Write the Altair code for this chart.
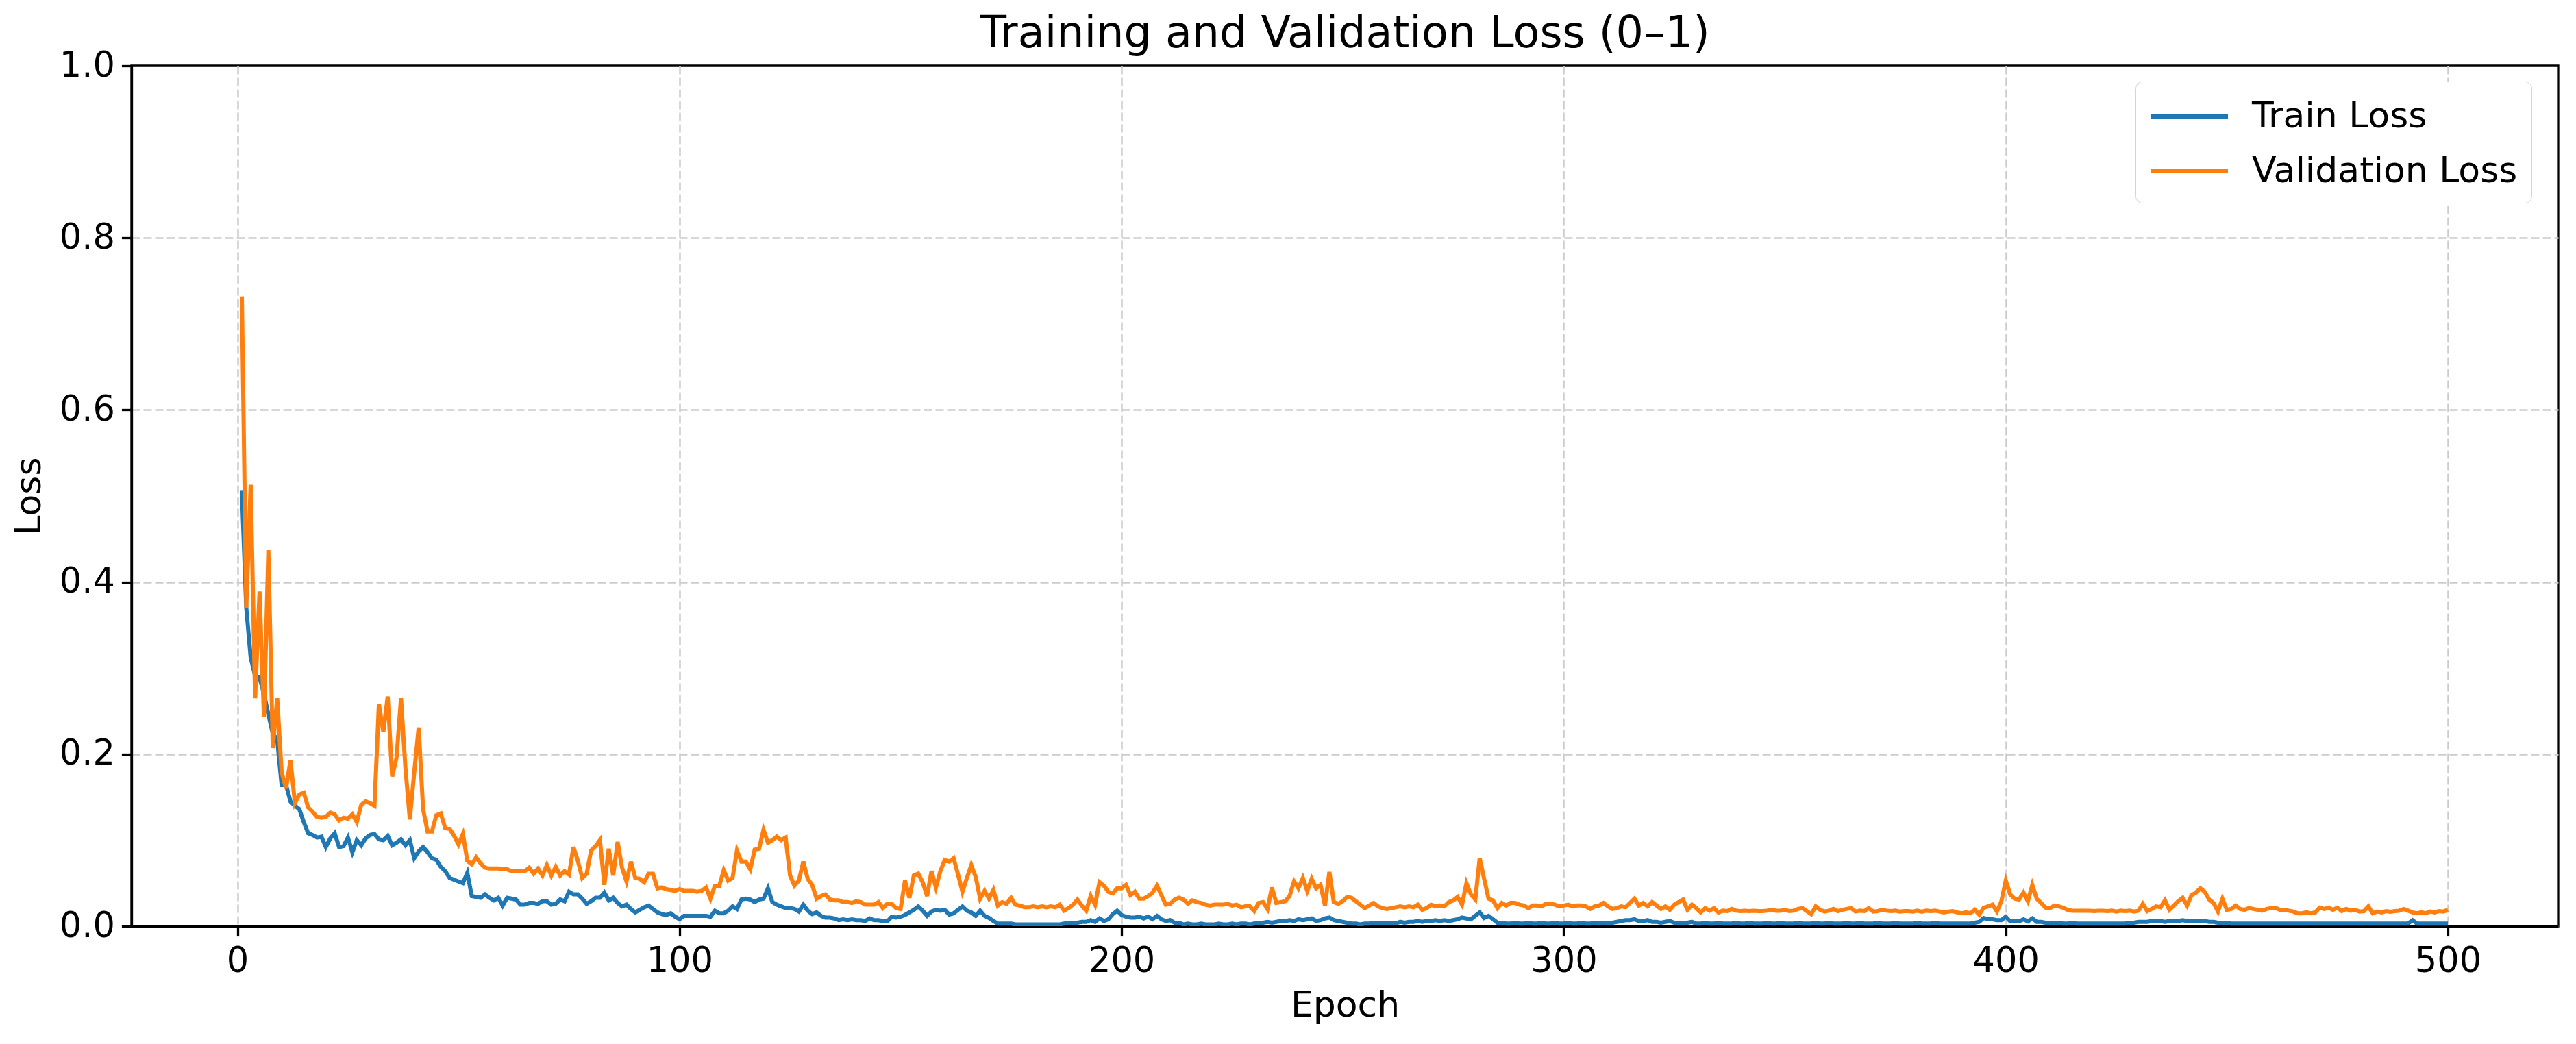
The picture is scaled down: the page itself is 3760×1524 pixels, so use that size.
import altair as alt
import pandas as pd

# ---- data ----
train_loss = [
    0.506, 0.370, 0.312, 0.291, 0.289, 0.270, 0.246, 0.224, 0.217, 0.164,
    0.164, 0.145, 0.140, 0.136, 0.121, 0.108, 0.106, 0.103, 0.104, 0.092,
    0.102, 0.108, 0.092, 0.093, 0.103, 0.086, 0.100, 0.094, 0.102, 0.106,
    0.107, 0.101, 0.100, 0.105, 0.094, 0.097, 0.101, 0.094, 0.100, 0.079,
    0.087, 0.092, 0.086, 0.079, 0.077, 0.069, 0.064, 0.056, 0.054, 0.052,
    0.050, 0.062, 0.035, 0.034, 0.033, 0.037, 0.033, 0.030, 0.033, 0.024,
    0.033, 0.032, 0.031, 0.025, 0.025, 0.027, 0.027, 0.026, 0.029, 0.029,
    0.025, 0.026, 0.031, 0.029, 0.040, 0.037, 0.037, 0.032, 0.026, 0.029,
    0.033, 0.033, 0.039, 0.030, 0.033, 0.027, 0.023, 0.025, 0.020, 0.016,
    0.019, 0.022, 0.024, 0.020, 0.016, 0.014, 0.013, 0.015, 0.011, 0.008,
    0.012, 0.012, 0.012, 0.012, 0.012, 0.012, 0.011, 0.018, 0.015, 0.015,
    0.018, 0.023, 0.020, 0.031, 0.032, 0.031, 0.028, 0.031, 0.032, 0.044,
    0.028, 0.025, 0.023, 0.021, 0.021, 0.020, 0.017, 0.025, 0.018, 0.014,
    0.016, 0.012, 0.010, 0.010, 0.009, 0.007, 0.008, 0.007, 0.008, 0.007,
    0.007, 0.006, 0.009, 0.007, 0.007, 0.006, 0.0056, 0.011, 0.010, 0.011,
    0.013, 0.016, 0.019, 0.023, 0.018, 0.012, 0.017, 0.019, 0.018, 0.019,
    0.0135, 0.015, 0.019, 0.023, 0.018, 0.016, 0.012, 0.018, 0.012, 0.0096,
    0.006, 0.003, 0.003, 0.003, 0.003, 0.002, 0.002, 0.002, 0.002, 0.002,
    0.002, 0.002, 0.002, 0.002, 0.002, 0.002, 0.003, 0.004, 0.004, 0.004,
    0.005, 0.005, 0.007, 0.005, 0.009, 0.006, 0.008, 0.014, 0.018, 0.013,
    0.011, 0.010, 0.010, 0.011, 0.009, 0.011, 0.008, 0.012, 0.008, 0.006,
    0.007, 0.004, 0.004, 0.002, 0.003, 0.002, 0.002, 0.003, 0.002, 0.002,
    0.002, 0.003, 0.002, 0.002, 0.003, 0.002, 0.003, 0.003, 0.002, 0.003,
    0.004, 0.004, 0.005, 0.004, 0.005, 0.006, 0.006, 0.007, 0.006, 0.008,
    0.007, 0.008, 0.009, 0.006, 0.007, 0.009, 0.010, 0.007, 0.006, 0.005,
    0.004, 0.003, 0.003, 0.002, 0.003, 0.003, 0.004, 0.003, 0.004, 0.003,
    0.004, 0.003, 0.005, 0.004, 0.005, 0.005, 0.006, 0.005, 0.006, 0.006,
    0.007, 0.006, 0.007, 0.006, 0.007, 0.008, 0.010, 0.009, 0.008, 0.012,
    0.016, 0.0095, 0.012, 0.008, 0.004, 0.004, 0.003, 0.003, 0.004, 0.003,
    0.003, 0.004, 0.003, 0.003, 0.004, 0.003, 0.003, 0.004, 0.003, 0.003,
    0.004, 0.003, 0.003, 0.004, 0.003, 0.003, 0.004, 0.003, 0.004, 0.003,
    0.004, 0.005, 0.006, 0.007, 0.007, 0.008, 0.006, 0.006, 0.007, 0.005,
    0.005, 0.004, 0.005, 0.006, 0.004, 0.004, 0.003, 0.004, 0.005, 0.003,
    0.003, 0.004, 0.003, 0.003, 0.004, 0.003, 0.003, 0.003, 0.004, 0.003,
    0.003, 0.004, 0.003, 0.003, 0.003, 0.004, 0.003, 0.003, 0.004, 0.003,
    0.003, 0.003, 0.004, 0.003, 0.003, 0.003, 0.004, 0.003, 0.003, 0.004,
    0.003, 0.003, 0.003, 0.004, 0.003, 0.003, 0.004, 0.003, 0.003, 0.003,
    0.004, 0.003, 0.003, 0.003, 0.004, 0.003, 0.003, 0.003, 0.003, 0.004,
    0.003, 0.003, 0.003, 0.004, 0.003, 0.003, 0.003, 0.003, 0.003, 0.003,
    0.003, 0.003, 0.004, 0.005, 0.0095, 0.008, 0.008, 0.007, 0.007, 0.011,
    0.0056, 0.006, 0.0056, 0.008, 0.0056, 0.009, 0.005, 0.005, 0.004, 0.004,
    0.003, 0.004, 0.003, 0.003, 0.004, 0.003, 0.003, 0.003, 0.003, 0.003,
    0.003, 0.003, 0.003, 0.003, 0.003, 0.003, 0.003, 0.004, 0.004, 0.005,
    0.005, 0.005, 0.006, 0.006, 0.006, 0.005, 0.006, 0.006, 0.006, 0.007,
    0.006, 0.006, 0.0056, 0.006, 0.006, 0.005, 0.005, 0.004, 0.004, 0.004,
    0.003, 0.003, 0.003, 0.003, 0.003, 0.003, 0.003, 0.003, 0.003, 0.003,
    0.003, 0.003, 0.003, 0.003, 0.003, 0.003, 0.003, 0.003, 0.003, 0.003,
    0.003, 0.003, 0.003, 0.003, 0.003, 0.003, 0.003, 0.003, 0.003, 0.003,
    0.003, 0.003, 0.003, 0.003, 0.003, 0.003, 0.003, 0.003, 0.003, 0.003,
    0.003, 0.007, 0.003, 0.003, 0.003, 0.003, 0.003, 0.003, 0.003, 0.003,
]

val_loss = [
    0.732, 0.370, 0.513, 0.265, 0.389, 0.243, 0.437, 0.207, 0.265, 0.179,
    0.160, 0.193, 0.143, 0.153, 0.155, 0.138, 0.133, 0.127, 0.126, 0.127,
    0.132, 0.130, 0.123, 0.126, 0.125, 0.130, 0.121, 0.141, 0.145, 0.143,
    0.140, 0.258, 0.226, 0.267, 0.174, 0.196, 0.265, 0.184, 0.124, 0.179,
    0.231, 0.136, 0.110, 0.110, 0.129, 0.131, 0.114, 0.113, 0.105, 0.095,
    0.107, 0.076, 0.072, 0.080, 0.073, 0.068, 0.067, 0.067, 0.067, 0.066,
    0.066, 0.064, 0.064, 0.064, 0.064, 0.068, 0.061, 0.067, 0.059, 0.071,
    0.059, 0.069, 0.059, 0.064, 0.060, 0.092, 0.076, 0.056, 0.061, 0.088,
    0.093, 0.100, 0.048, 0.090, 0.059, 0.098, 0.068, 0.052, 0.075, 0.056,
    0.055, 0.051, 0.061, 0.061, 0.044, 0.045, 0.043, 0.042, 0.041, 0.043,
    0.041, 0.041, 0.041, 0.040, 0.041, 0.045, 0.032, 0.047, 0.047, 0.065,
    0.053, 0.056, 0.088, 0.075, 0.075, 0.066, 0.089, 0.090, 0.112, 0.097,
    0.100, 0.104, 0.100, 0.103, 0.059, 0.047, 0.053, 0.075, 0.055, 0.048,
    0.032, 0.035, 0.037, 0.031, 0.030, 0.030, 0.028, 0.028, 0.027, 0.029,
    0.028, 0.025, 0.025, 0.025, 0.028, 0.021, 0.026, 0.026, 0.021, 0.020,
    0.053, 0.033, 0.059, 0.061, 0.051, 0.035, 0.064, 0.045, 0.064, 0.077,
    0.075, 0.079, 0.060, 0.040, 0.056, 0.071, 0.057, 0.032, 0.041, 0.032,
    0.042, 0.024, 0.028, 0.026, 0.033, 0.025, 0.024, 0.022, 0.022, 0.023,
    0.022, 0.023, 0.022, 0.023, 0.022, 0.025, 0.018, 0.021, 0.025, 0.031,
    0.024, 0.018, 0.035, 0.025, 0.051, 0.047, 0.040, 0.038, 0.044, 0.044,
    0.048, 0.036, 0.040, 0.032, 0.032, 0.035, 0.039, 0.047, 0.036, 0.025,
    0.026, 0.031, 0.033, 0.031, 0.026, 0.030, 0.028, 0.027, 0.025, 0.024,
    0.025, 0.025, 0.025, 0.026, 0.024, 0.025, 0.022, 0.023, 0.023, 0.0175,
    0.027, 0.028, 0.020, 0.045, 0.027, 0.028, 0.029, 0.035, 0.052, 0.044,
    0.056, 0.041, 0.055, 0.044, 0.048, 0.024, 0.063, 0.028, 0.026, 0.029,
    0.034, 0.033, 0.029, 0.025, 0.021, 0.024, 0.027, 0.023, 0.021, 0.020,
    0.021, 0.022, 0.023, 0.022, 0.023, 0.022, 0.025, 0.019, 0.021, 0.025,
    0.023, 0.024, 0.023, 0.028, 0.030, 0.034, 0.025, 0.050, 0.037, 0.031,
    0.079, 0.055, 0.032, 0.030, 0.021, 0.027, 0.024, 0.027, 0.027, 0.025,
    0.024, 0.021, 0.024, 0.024, 0.023, 0.026, 0.026, 0.025, 0.023, 0.024,
    0.025, 0.023, 0.024, 0.024, 0.023, 0.020, 0.023, 0.024, 0.027, 0.023,
    0.020, 0.021, 0.023, 0.022, 0.027, 0.032, 0.024, 0.027, 0.023, 0.028,
    0.024, 0.020, 0.023, 0.019, 0.025, 0.028, 0.031, 0.019, 0.025, 0.021,
    0.016, 0.021, 0.018, 0.021, 0.016, 0.018, 0.0175, 0.020, 0.018, 0.0175,
    0.018, 0.0175, 0.018, 0.0175, 0.0175, 0.018, 0.019, 0.018, 0.018, 0.019,
    0.0175, 0.018, 0.020, 0.021, 0.0175, 0.014, 0.023, 0.019, 0.017, 0.018,
    0.020, 0.0175, 0.019, 0.020, 0.021, 0.017, 0.018, 0.0175, 0.021, 0.017,
    0.0175, 0.019, 0.018, 0.0175, 0.018, 0.017, 0.0175, 0.0175, 0.017, 0.018,
    0.0167, 0.018, 0.0175, 0.018, 0.017, 0.016, 0.017, 0.0175, 0.016, 0.015,
    0.016, 0.015, 0.019, 0.0135, 0.0215, 0.023, 0.025, 0.017, 0.029, 0.053,
    0.037, 0.032, 0.031, 0.039, 0.029, 0.048, 0.032, 0.027, 0.0215, 0.021,
    0.024, 0.023, 0.0215, 0.019, 0.018, 0.018, 0.018, 0.018, 0.018, 0.0175,
    0.018, 0.018, 0.0175, 0.018, 0.017, 0.018, 0.0175, 0.018, 0.017, 0.018,
    0.026, 0.0175, 0.020, 0.023, 0.022, 0.030, 0.019, 0.024, 0.029, 0.033,
    0.024, 0.036, 0.039, 0.044, 0.040, 0.031, 0.027, 0.017, 0.032, 0.019,
    0.020, 0.024, 0.020, 0.019, 0.021, 0.020, 0.019, 0.018, 0.020, 0.021,
    0.0215, 0.019, 0.019, 0.018, 0.017, 0.015, 0.015, 0.016, 0.015, 0.016,
    0.0215, 0.020, 0.0215, 0.019, 0.0215, 0.0175, 0.020, 0.018, 0.019, 0.017,
    0.0175, 0.023, 0.015, 0.017, 0.016, 0.0175, 0.0167, 0.0175, 0.018, 0.020,
    0.018, 0.016, 0.015, 0.016, 0.015, 0.017, 0.016, 0.0175, 0.017, 0.019,
]

epochs = list(range(1, len(train_loss) + 1))
series_names = ["Train Loss", "Validation Loss"]
series_colors = ["#1f77b4", "#ff7f0e"]
x_ticks = [0, 100, 200, 300, 400, 500]
y_ticks = [0.0, 0.2, 0.4, 0.6, 0.8, 1.0]

df = pd.DataFrame({
    "Epoch": epochs + epochs,
    "Loss": train_loss + val_loss,
    "Series": [series_names[0]] * len(epochs) + [series_names[1]] * len(epochs),
})

FONT = "DejaVu Sans"

x_enc = alt.X(
    "Epoch:Q",
    scale=alt.Scale(domain=[-23.95, 524.95], nice=False, zero=False),
    axis=alt.Axis(values=x_ticks, format="d", title="Epoch", labelPadding=12, titlePadding=14),
)
y_enc = alt.Y(
    "Loss:Q",
    scale=alt.Scale(domain=[0, 1], nice=False),
    axis=alt.Axis(
        values=y_ticks, format=".1f", title="Loss", labelPadding=10, titlePadding=17,
        gridOpacity={"condition": {"test": "datum.value >= 1", "value": 0}, "value": 1},
    ),
)
color_enc = alt.Color(
    "Series:N",
    scale=alt.Scale(domain=series_names, range=series_colors),
    legend=alt.Legend(
        title=None,
        orient="none",
        legendX=2925,
        legendY=23,
        symbolType="M-1,0H3",
        symbolSize=3136,
        symbolStrokeWidth=6,
        labelFontSize=52,
        labelFont=FONT,
        labelColor="black",
        labelOffset=88,
        labelLimit=0,
        rowPadding=23,
        padding=20,
        strokeColor="#d4d4d4",
        fillColor="white",
        cornerRadius=10,
    ),
)

base = alt.Chart(df)
train_line = base.transform_filter(alt.datum.Series == series_names[0]).mark_line(
    strokeWidth=6, clip=True
).encode(x=x_enc, y=y_enc, color=color_enc)
val_line = base.transform_filter(alt.datum.Series == series_names[1]).mark_line(
    strokeWidth=6, clip=True
).encode(x=x_enc, y=y_enc, color=color_enc)

chart = alt.layer(train_line, val_line).properties(
    width=3542,
    height=1256,
    title=alt.TitleParams(
        "Training and Validation Loss (0–1)",
        fontSize=63.5,
        font=FONT,
        fontWeight="normal",
        color="black",
        anchor="middle",
        frame="group",
        baseline="alphabetic",
        offset=4,
        dy=66,
    ),
    autosize=alt.AutoSizeParams(type="none"),
    padding={"left": 184, "top": 88, "right": 18, "bottom": 164},
).configure_view(
    stroke="black", strokeWidth=3.3
).configure_axis(
    labelFont=FONT,
    titleFont=FONT,
    labelFontSize=51,
    titleFontSize=52,
    titleFontWeight="normal",
    labelColor="black",
    titleColor="black",
    domainColor="black",
    domainWidth=3.3,
    tickColor="black",
    tickWidth=3.3,
    tickSize=14.6,
    grid=True,
    gridColor="#cccccc",
    gridWidth=2.5,
    gridDash=[12, 5],
)

chart.save("out.html", embed_options={"renderer": "svg", "actions": False})
